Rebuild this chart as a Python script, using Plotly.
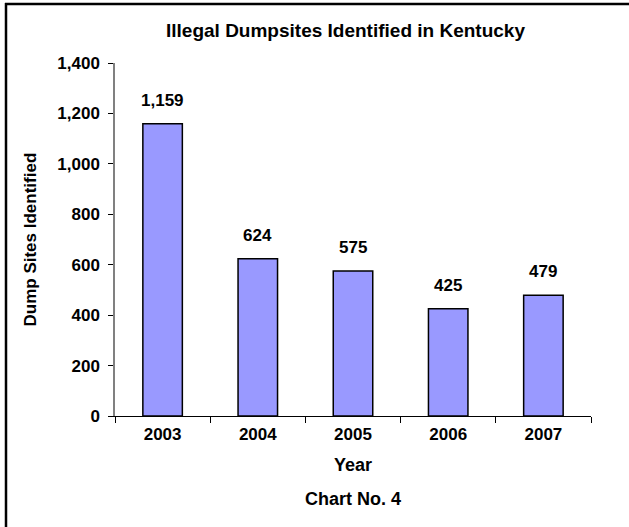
import plotly.graph_objects as go

years = ["2003", "2004", "2005", "2006", "2007"]
sites = [1159, 624, 575, 425, 479]
y_ticks = [0, 200, 400, 600, 800, 1000, 1200, 1400]
y_tick_text = ["0", "200", "400", "600", "800", "1,000", "1,200", "1,400"]
labels = ["1,159", "624", "575", "425", "479"]

FONT = "Liberation Sans, Arial, sans-serif"

fig = go.Figure()
fig.add_trace(go.Bar(
    x=years, y=sites,
    marker=dict(color="#9999FF", line=dict(color="#000000", width=1.5)),
    hoverinfo="skip",
))

for i, (v, t) in enumerate(zip(sites, labels)):
    fig.add_annotation(x=i, y=v, text="<b>%s</b>" % t, showarrow=False,
                       xanchor="center", yanchor="bottom", yshift=12,
                       font=dict(family=FONT, size=17, color="#000000"))

W, H = 629, 527
L, R, T, B = 115, 38, 63, 111
pw, ph = W - L - R, H - T - B

def px_x(x):
    return (x - L) / pw

def px_y(y):
    return (H - B - y) / ph

def txt(x, y, s, size=17, angle=0):
    fig.add_annotation(xref="paper", yref="paper", x=x, y=y, text="<b>%s</b>" % s,
                       showarrow=False, textangle=angle, xanchor="center", yanchor="middle",
                       font=dict(family=FONT, size=size, color="#000000"))

txt(px_x(345), px_y(30), "Illegal Dumpsites Identified in Kentucky", size=19)
txt(px_x(30), 0.5, "Dump Sites Identified", angle=-90)
txt(0.5, px_y(465), "Year", size=18)
txt(0.5, px_y(499), "Chart No. 4", size=18)

# outer border (left and top edges visible)
fig.add_shape(type="line", xref="paper", yref="paper",
              x0=px_x(6), x1=px_x(6), y0=px_y(3), y1=px_y(530),
              line=dict(color="#000000", width=2.5))
fig.add_shape(type="line", xref="paper", yref="paper",
              x0=px_x(5), x1=px_x(640), y0=px_y(4), y1=px_y(4),
              line=dict(color="#000000", width=2.5))

fig.update_layout(
    width=W, height=H,
    margin=dict(l=L, r=R, t=T, b=B, pad=0),
    paper_bgcolor="#FFFFFF", plot_bgcolor="#FFFFFF",
    bargap=0.585,
    showlegend=False,
    font=dict(family=FONT, size=17, color="#000000"),
)
fig.update_xaxes(
    type="category", range=[-0.5, 4.5], showgrid=False, showline=True,
    linecolor="#000000", linewidth=1,
    ticks="outside", tickson="boundaries", ticklen=6, tickcolor="#000000",
    tickfont=dict(family=FONT, size=17, color="#000000", weight="bold"),
    ticklabelstandoff=3, tickangle=0,
)
fig.update_yaxes(
    range=[0, 1400], showgrid=False, showline=True, linecolor="#808080", linewidth=1.5,
    ticks="outside", ticklen=5, tickcolor="#000000",
    tickvals=y_ticks, ticktext=y_tick_text, zeroline=False,
    tickfont=dict(family=FONT, size=17, color="#000000", weight="bold"),
    ticklabelstandoff=5,
)

fig.write_html("out.html",
               config={"displayModeBar": False},
               post_script="document.body.style.margin='0px';document.body.style.overflow='hidden';")
